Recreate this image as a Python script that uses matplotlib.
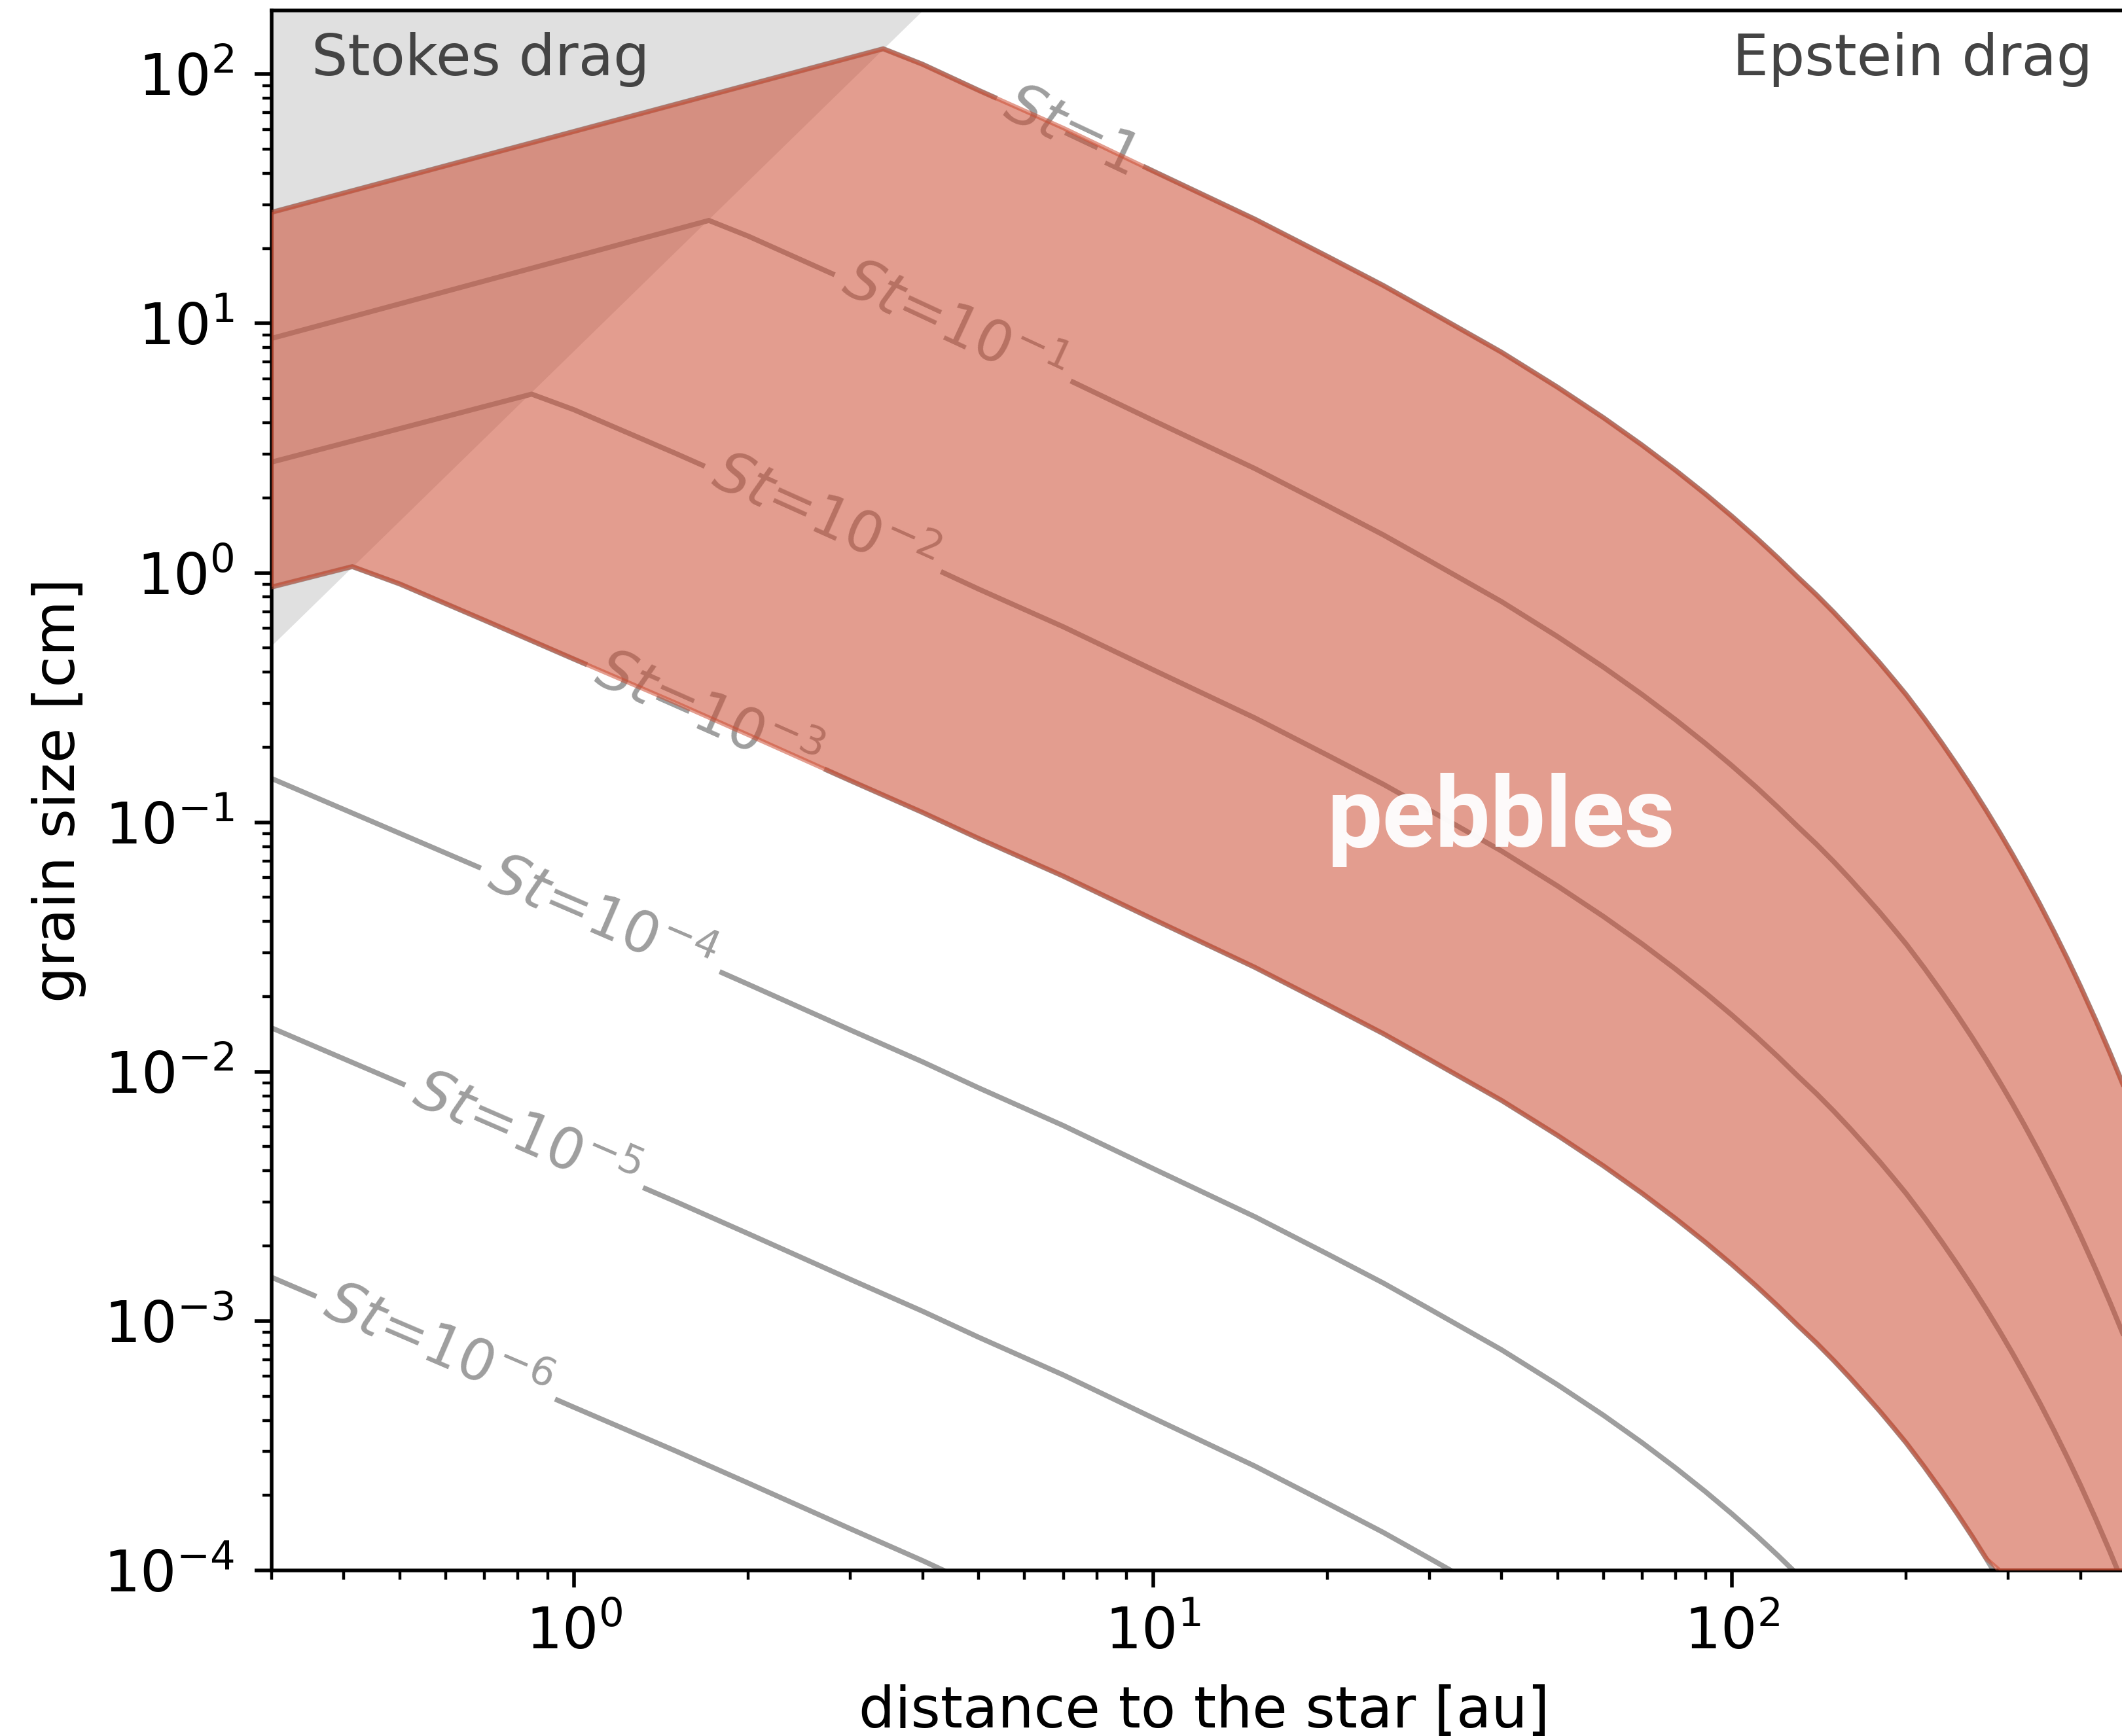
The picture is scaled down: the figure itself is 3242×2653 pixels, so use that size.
import matplotlib
matplotlib.use("Agg")
import matplotlib.pyplot as plt
import numpy as np

plt.rcParams['font.family'] = ['DejaVu Sans']
plt.rcParams['font.size'] = 15.7
plt.rcParams['axes.linewidth'] = 1.0
plt.rcParams['xtick.major.size'] = 4.7
plt.rcParams['ytick.major.size'] = 4.7
plt.rcParams['xtick.minor.size'] = 2.6
plt.rcParams['ytick.minor.size'] = 2.6
plt.rcParams['xtick.major.width'] = 1.0
plt.rcParams['ytick.major.width'] = 1.0
plt.rcParams['xtick.minor.width'] = 0.8
plt.rcParams['ytick.minor.width'] = 0.8

# grain size [cm] at St=1 in the Epstein regime, vs. distance [au]
r_au = np.array([0.3, 0.4, 0.5, 0.7, 1, 1.5, 2, 3, 4, 5, 7, 10, 15, 20, 25,
                 30, 40, 50, 60, 70, 80, 90, 100, 110, 120, 130, 140, 150,
                 160, 170, 180, 190, 200, 215, 230, 245, 260, 275, 290, 305,
                 320, 340, 360, 380, 400, 425, 450, 475, 500])
a_st1 = np.array([1500, 1127, 903, 646, 451, 301, 224, 147, 109.5, 86.1,
                  60.8, 40.9, 26.2, 18.6, 14.2, 11.2, 7.67, 5.55, 4.19, 3.25,
                  2.573, 2.070, 1.686, 1.387, 1.150, 0.960, 0.816, 0.694,
                  0.5916, 0.506, 0.4355, 0.375, 0.3246, 0.2600, 0.2091,
                  0.1689, 0.1370, 0.1115, 0.0910, 0.0745, 0.0611, 0.0471,
                  0.0364, 0.02825, 0.02197, 0.01610, 0.01185, 0.00874,
                  0.00646])

st_values = [1, 1e-1, 1e-2, 1e-3, 1e-4, 1e-5, 1e-6]
st_labels = [r'$St$=1', r'$St$=10$^{-1}$', r'$St$=10$^{-2}$',
             r'$St$=10$^{-3}$', r'$St$=10$^{-4}$', r'$St$=10$^{-5}$',
             r'$St$=10$^{-6}$']
label_r = [7.2, 4.51, 2.69, 1.69, 1.11, 0.82, 0.577]

# Stokes branch: size at the inner edge and the kink onto the Epstein curve
stokes_left = [27.9, 8.71, 2.78, 0.877]
kink_r = [3.42, 1.71, 0.845, 0.414]
kink_a = [126.4, 25.9, 5.21, 1.06]

# Stokes/Epstein boundary (a = 9/4 mean free path)
edge_r = [0.3, 4.0]
edge_a = [0.51, 180]

xticks = [1, 10, 100]
yticks = [1e-4, 1e-3, 1e-2, 1e-1, 1, 10, 100]

xmin, xmax = 0.3, 500
ymin, ymax = 1e-4, 180

line_col = '#9e9e9e'
peb_col = '#cc4d33'

fig = plt.figure(figsize=(3242/400, 2653/400), dpi=400)
ax = fig.add_axes([0.12786, 0.09536, 0.87902, 0.89861])
ax.set_xscale('log')
ax.set_yscale('log')
ax.set_xlim(xmin, xmax)
ax.set_ylim(ymin, ymax)
ax.set_xticks(xticks)
ax.set_yticks(yticks)

ax.fill_between(edge_r, edge_a, 1e3, color='#e0e0e0', lw=0, zorder=0.5)


def st_curve(i):
    st = st_values[i]
    if i < len(kink_r):
        m = r_au > kink_r[i]
        r = np.concatenate([[xmin, kink_r[i]], r_au[m]])
        a = np.concatenate([[stokes_left[i], kink_a[i]], st * a_st1[m]])
    else:
        r = r_au.copy()
        a = st * a_st1
    return r, a


curves = [st_curve(i) for i in range(len(st_values))]

for r, a in curves:
    ax.plot(r, a, color=line_col, lw=1.4, zorder=1)

# inline labels along each curve
for (r, a), lab, lx in zip(curves, st_labels, label_r):
    lr, la = np.log10(r), np.log10(a)
    ly = 10**np.interp(np.log10(lx), lr, la)
    y1 = 10**np.interp(np.log10(lx / 1.05), lr, la)
    y2 = 10**np.interp(np.log10(lx * 1.05), lr, la)
    p1 = ax.transData.transform((lx / 1.05, y1))
    p2 = ax.transData.transform((lx * 1.05, y2))
    ang = np.degrees(np.arctan2(p2[1] - p1[1], p2[0] - p1[0]))
    ax.text(lx, ly, lab, rotation=ang, rotation_mode='anchor', ha='center',
            va='center', color=line_col, zorder=2,
            bbox=dict(boxstyle='square,pad=0.2', fc='white', ec='none'))

# pebble band between St=1e-3 and St=1
r_up, a_up = curves[0]
r_lo, a_lo = curves[3]
a_lo = np.clip(a_lo, ymin, None)
px = np.concatenate([r_up, r_lo[::-1]])
py = np.concatenate([a_up, a_lo[::-1]])
ax.fill(px, py, facecolor=peb_col, edgecolor=peb_col, alpha=0.55, lw=1.2,
        zorder=3)

ax.text(0.352, 99, 'Stokes drag', color='#444444', ha='left', va='baseline',
        zorder=4)
ax.text(420, 99, 'Epstein drag', color='#444444', ha='right', va='baseline',
        zorder=4)
ax.text(40, 0.080, 'pebbles', family='Roboto', weight='bold', fontsize=27,
        color='white', alpha=0.96, ha='center', va='baseline', zorder=5)

ax.set_xlabel('distance to the star [au]', labelpad=6.5)
ax.set_ylabel('grain size [cm]', labelpad=4.7)
ax.tick_params(axis='y', which='both', pad=5.5)
ax.tick_params(axis='x', which='both', pad=5.0)

fig.savefig('out.png', dpi=400)
